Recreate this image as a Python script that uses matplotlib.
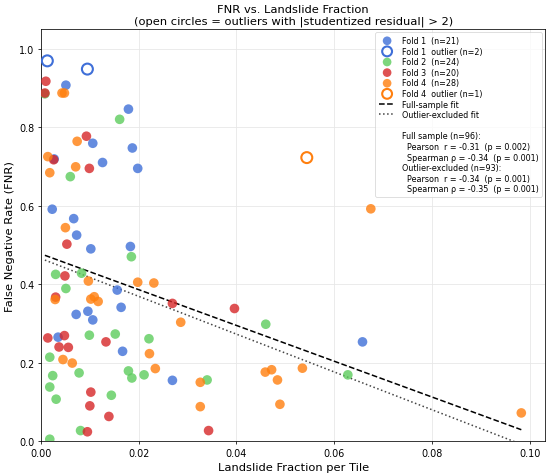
import numpy as np
import matplotlib
matplotlib.use('Agg')
import matplotlib.pyplot as plt
from matplotlib.lines import Line2D

# values
fold1_x = [0.0051, 0.0179, 0.0106, 0.0187, 0.0126, 0.0198, 0.0023, 0.0067, 0.0073, 0.0102,
           0.0183, 0.0156, 0.0164, 0.0072, 0.0096, 0.0106, 0.0035, 0.0167, 0.0269, 0.0658, 0.0027]
fold1_y = [0.907, 0.846, 0.759, 0.747, 0.710, 0.695, 0.591, 0.567, 0.525, 0.490,
           0.496, 0.385, 0.341, 0.323, 0.331, 0.309, 0.265, 0.229, 0.155, 0.253, 0.719]
fold1_out_x = [0.0013, 0.0095]
fold1_out_y = [0.969, 0.948]

fold2_x = [0.0008, 0.0161, 0.0060, 0.0185, 0.0030, 0.0083, 0.0051, 0.0099, 0.0152, 0.0221,
           0.0018, 0.0024, 0.0078, 0.0179, 0.0186, 0.0211, 0.0340, 0.0018, 0.0031, 0.0144,
           0.0018, 0.0081, 0.0460, 0.0628]
fold2_y = [0.885, 0.820, 0.674, 0.470, 0.425, 0.428, 0.389, 0.270, 0.273, 0.261,
           0.214, 0.167, 0.174, 0.179, 0.161, 0.169, 0.156, 0.138, 0.107, 0.117,
           0.005, 0.027, 0.298, 0.169]

fold3_x = [0.0010, 0.0008, 0.0093, 0.0026, 0.0099, 0.0053, 0.0049, 0.0030, 0.0269, 0.0014,
           0.0048, 0.0037, 0.0056, 0.0133, 0.0102, 0.0100, 0.0139, 0.0095, 0.0343, 0.0396]
fold3_y = [0.917, 0.887, 0.777, 0.717, 0.695, 0.502, 0.421, 0.367, 0.351, 0.263,
           0.269, 0.240, 0.239, 0.253, 0.125, 0.090, 0.063, 0.024, 0.027, 0.338]

fold4_x = [0.0043, 0.0048, 0.0074, 0.0014, 0.0018, 0.0071, 0.0050, 0.0097, 0.0198, 0.0231,
           0.0029, 0.0102, 0.0109, 0.0117, 0.0286, 0.0222, 0.0045, 0.0064, 0.0234, 0.0326,
           0.0326, 0.0675, 0.0459, 0.0472, 0.0484, 0.0535, 0.0489, 0.0983]
fold4_y = [0.887, 0.887, 0.764, 0.725, 0.684, 0.699, 0.544, 0.408, 0.405, 0.403,
           0.361, 0.362, 0.368, 0.356, 0.303, 0.223, 0.208, 0.199, 0.185, 0.150,
           0.088, 0.592, 0.176, 0.182, 0.156, 0.186, 0.094, 0.072]
fold4_out_x = [0.0544]
fold4_out_y = [0.7225]

stats_lines = ['Full sample (n=96):',
               '  Pearson  r = -0.31  (p = 0.002)',
               '  Spearman \u03c1 = -0.34  (p = 0.001)',
               'Outlier-excluded (n=93):',
               '  Pearson  r = -0.34  (p = 0.001)',
               '  Spearman \u03c1 = -0.35  (p = 0.001)']

c_blue = '#3f6fd8'
c_green = '#5ccc5c'
c_red = '#d62728'
c_orange = '#ff7f0e'

k = 0.6875  # reference looks like an 8 in wide figure shrunk to 550 px
plt.rcParams.update({
    'axes.linewidth': 0.8 * k,
    'xtick.major.size': 3.5 * k, 'ytick.major.size': 3.5 * k,
    'xtick.major.width': 0.8 * k, 'ytick.major.width': 0.8 * k,
    'xtick.major.pad': 3.5 * k, 'ytick.major.pad': 3.5 * k,
    'axes.labelpad': 4.0 * k, 'axes.titlepad': 6.0 * k,
})

fig = plt.figure(figsize=(5.5, 4.77), dpi=100)
ax = fig.add_axes([0.0745, 0.073, 0.917, 0.864])

ax.scatter(fold1_x, fold1_y, s=48, color=c_blue, alpha=0.8, edgecolors='none', label='Fold 1  (n=21)', zorder=3)
ax.scatter(fold1_out_x, fold1_out_y, s=62, facecolors='none', edgecolors=c_blue, linewidths=1.5,
           label='Fold 1  outlier (n=2)', zorder=3)
ax.scatter(fold2_x, fold2_y, s=48, color=c_green, alpha=0.8, edgecolors='none', label='Fold 2  (n=24)', zorder=3)
ax.scatter(fold3_x, fold3_y, s=48, color=c_red, alpha=0.8, edgecolors='none', label='Fold 3  (n=20)', zorder=3)
ax.scatter(fold4_x, fold4_y, s=48, color=c_orange, alpha=0.8, edgecolors='none', label='Fold 4  (n=28)', zorder=3)
ax.scatter(fold4_out_x, fold4_out_y, s=62, facecolors='none', edgecolors=c_orange, linewidths=1.5,
           label='Fold 4  outlier (n=1)', zorder=3)

# fits
x_in = np.array(fold1_x + fold2_x + fold3_x + fold4_x)
y_in = np.array(fold1_y + fold2_y + fold3_y + fold4_y)
x_all = np.concatenate([x_in, fold1_out_x, fold4_out_x])
y_all = np.concatenate([y_in, fold1_out_y, fold4_out_y])
xx = np.linspace(x_all.min(), x_all.max(), 100)
p_full = np.polyfit(x_all, y_all, 1)
p_in = np.polyfit(x_in, y_in, 1)
ax.plot(xx, np.polyval(p_full, xx), 'k--', lw=1.1, label='Full-sample fit', zorder=2)
ax.plot(xx, np.polyval(p_in, xx), color='#444444', ls=':', lw=1.1, label='Outlier-excluded fit', zorder=2)

handles, labels = ax.get_legend_handles_labels()
handles.append(Line2D([], [], linestyle='none'))
labels.append(' ')
for s in stats_lines:
    handles.append(Line2D([], [], linestyle='none'))
    labels.append(s)
leg = ax.legend(handles, labels, loc='upper right', fontsize=5.8, labelspacing=0.2,
                borderpad=0.45, borderaxespad=0.4, markerscale=0.9)
leg.get_frame().set_linewidth(0.8 * k)

ax.set_xlim(0, x_all.max() * 1.05)
ax.set_ylim(0, 1.05)
ax.grid(True, color='#e6e6e6', lw=0.8 * k)
ax.set_axisbelow(True)
ax.tick_params(labelsize=6.9)
ax.set_xlabel('Landslide Fraction per Tile', fontsize=8.25)
ax.set_ylabel('False Negative Rate (FNR)', fontsize=8.25)
ax.set_title('FNR vs. Landslide Fraction\n(open circles = outliers with |studentized residual| > 2)', fontsize=8.25)

fig.savefig('out.png', dpi=100)
